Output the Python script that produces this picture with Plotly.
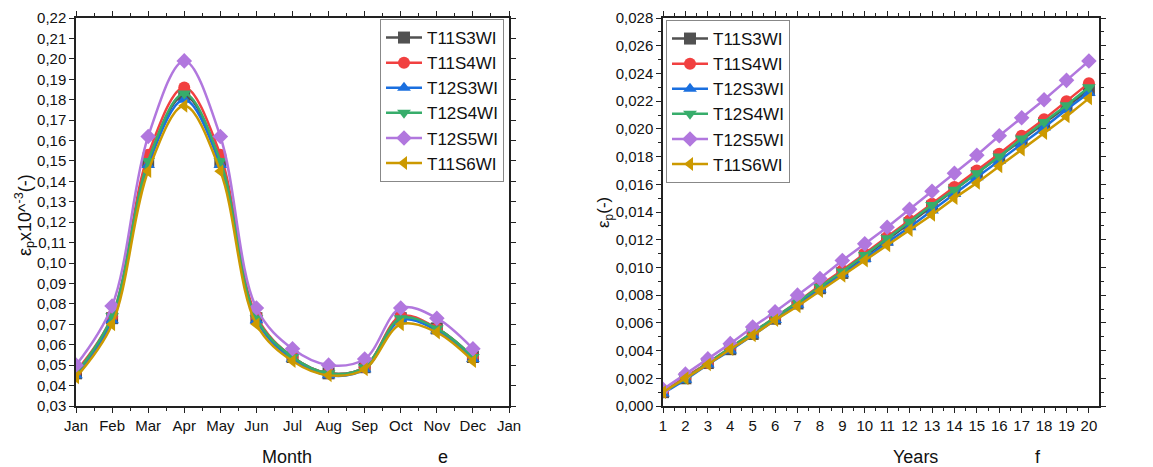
import plotly.graph_objects as go

months = ["Jan", "Feb", "Mar", "Apr", "May", "Jun", "Jul", "Aug", "Sep", "Oct", "Nov", "Dec", "Jan"]
month_pos = list(range(12))
years = list(range(1, 21))

series_names = ["T11S3WI", "T11S4WI", "T12S3WI", "T12S4WI", "T12S5WI", "T11S6WI"]
colors = ["#515151", "#F14040", "#1A6FDF", "#37AD6B", "#B177DE", "#CC9900"]
symbols = ["square", "circle", "triangle-up", "triangle-down", "diamond", "triangle-left"]

# monthly values (x10^-3)
m_T11S3W = [0.046, 0.073, 0.150, 0.182, 0.150, 0.073, 0.054, 0.046, 0.049, 0.073, 0.068, 0.054]
m_T11S4W = [0.047, 0.074, 0.153, 0.186, 0.153, 0.074, 0.054, 0.046, 0.049, 0.074, 0.068, 0.054]
m_T12S3W = [0.045, 0.072, 0.148, 0.180, 0.148, 0.072, 0.053, 0.045, 0.048, 0.072, 0.067, 0.053]
m_T12S4W = [0.046, 0.074, 0.150, 0.183, 0.150, 0.073, 0.054, 0.046, 0.049, 0.073, 0.068, 0.054]
m_T12S5W = [0.050, 0.079, 0.162, 0.199, 0.162, 0.078, 0.058, 0.050, 0.053, 0.078, 0.073, 0.058]
m_T11S6W = [0.044, 0.070, 0.145, 0.177, 0.145, 0.070, 0.052, 0.045, 0.048, 0.070, 0.066, 0.052]

# yearly values
y_T11S3W = [0.0010, 0.0020, 0.0031, 0.0041, 0.0052, 0.0063, 0.0074, 0.0085, 0.0096, 0.0108, 0.0120, 0.0132, 0.0144, 0.0156, 0.0168, 0.0180, 0.0192, 0.0204, 0.0216, 0.0228]
y_T11S4W = [0.0010, 0.0021, 0.0031, 0.0042, 0.0053, 0.0064, 0.0075, 0.0087, 0.0098, 0.0110, 0.0122, 0.0134, 0.0146, 0.0158, 0.0170, 0.0182, 0.0195, 0.0207, 0.0220, 0.0233]
y_T12S3W = [0.0009, 0.0019, 0.0030, 0.0040, 0.0051, 0.0062, 0.0073, 0.0084, 0.0095, 0.0106, 0.0118, 0.0129, 0.0141, 0.0153, 0.0165, 0.0177, 0.0189, 0.0201, 0.0214, 0.0226]
y_T12S4W = [0.0010, 0.0020, 0.0031, 0.0042, 0.0053, 0.0064, 0.0075, 0.0086, 0.0097, 0.0109, 0.0121, 0.0133, 0.0145, 0.0156, 0.0168, 0.0180, 0.0193, 0.0205, 0.0217, 0.0230]
y_T12S5W = [0.0012, 0.0023, 0.0034, 0.0045, 0.0057, 0.0068, 0.0080, 0.0092, 0.0105, 0.0117, 0.0129, 0.0142, 0.0155, 0.0168, 0.0181, 0.0195, 0.0208, 0.0221, 0.0235, 0.0249]
y_T11S6W = [0.0010, 0.0020, 0.0030, 0.0041, 0.0051, 0.0062, 0.0072, 0.0083, 0.0094, 0.0105, 0.0116, 0.0127, 0.0138, 0.0150, 0.0161, 0.0173, 0.0185, 0.0197, 0.0209, 0.0222]

monthly = [m_T11S3W, m_T11S4W, m_T12S3W, m_T12S4W, m_T12S5W, m_T11S6W]
yearly = [y_T11S3W, y_T11S4W, y_T12S3W, y_T12S4W, y_T12S5W, y_T11S6W]

W, H = 1153, 467
ML, MR, MT, MB = 76, 54, 18, 61
PW = W - ML - MR
PH = H - MT - MB

def px(x):
    return (x - ML) / PW

def py(y):
    return (H - MB - y) / PH

FONT = "Liberation Sans, Arial"

fig = go.Figure()
for name, c, s, vals in zip(series_names, colors, symbols, monthly):
    fig.add_trace(go.Scatter(x=month_pos, y=vals, name=name, mode="lines+markers",
                             line=dict(color=c, width=2.5, shape="spline", smoothing=1.0),
                             marker=dict(color=c, symbol=s, size=12),
                             xaxis="x", yaxis="y", legend="legend"))
for name, c, s, vals in zip(series_names, colors, symbols, yearly):
    fig.add_trace(go.Scatter(x=years, y=vals, name=name, mode="lines+markers",
                             line=dict(color=c, width=2.5),
                             marker=dict(color=c, symbol=s, size=12),
                             xaxis="x2", yaxis="y2", legend="legend2"))

axis_common = dict(showgrid=False, zeroline=False, showline=True, linecolor="#222", linewidth=1.5,
                   mirror="ticks", ticks="outside", ticklen=5, tickcolor="#222",
                   tickfont=dict(family=FONT, size=15, color="#111"),
                   automargin=False)

legend_common = dict(xanchor="left", yanchor="top", bgcolor="white",
                     bordercolor="#888", borderwidth=1, font=dict(size=17, family=FONT),
                     itemwidth=36, tracegroupgap=0)

fig.update_layout(
    width=W, height=H, margin=dict(l=ML, r=MR, t=MT, b=MB),
    plot_bgcolor="white", paper_bgcolor="white", separators=", ",
    font=dict(family=FONT, color="#111"),
    xaxis=dict(axis_common, domain=[0, px(509)], range=[0, 12], tickmode="array",
               tickvals=list(range(13)), ticktext=months,
               minor=dict(ticks="outside", ticklen=3, dtick=0.5, tickcolor="#222")),
    yaxis=dict(axis_common, domain=[0, 1], range=[0.03, 0.22], dtick=0.01, tickformat=".2f",
               anchor="x"),
    xaxis2=dict(axis_common, domain=[px(663), 1], range=[1, 20.45], dtick=1, anchor="y2",
                minor=dict(ticks="outside", ticklen=3, dtick=0.5, tickcolor="#222")),
    yaxis2=dict(axis_common, domain=[0, 1], range=[0, 0.028], dtick=0.002, tickformat=".3f",
                anchor="x2", minor=dict(ticks="outside", ticklen=3, dtick=0.001, tickcolor="#222")),
    legend=dict(legend_common, x=px(380), y=py(19)),
    legend2=dict(legend_common, x=px(666), y=py(20)),
    showlegend=True,
)

ann_font = dict(family=FONT, size=18, color="#111")
def ann(text, x, y, font, angle=0):
    fig.add_annotation(text=text, x=px(x), y=py(y), xref="paper", yref="paper", showarrow=False,
                       xanchor="center", yanchor="middle", textangle=angle, font=font)

ann("Month", 287, 457, ann_font)
ann("e", 443, 457, ann_font)
ann("Years", 915, 457, ann_font)
ann("f", 1038, 457, ann_font)
ann("ε<sub>p</sub>x10^<sup>-3</sup>(-)", 24, 215, dict(family=FONT, size=18, color="#111"), -90)
ann("ε<sub>p</sub>(-)", 605, 213, dict(family=FONT, size=17, color="#111"), -90)

fig.write_html("out.html")
